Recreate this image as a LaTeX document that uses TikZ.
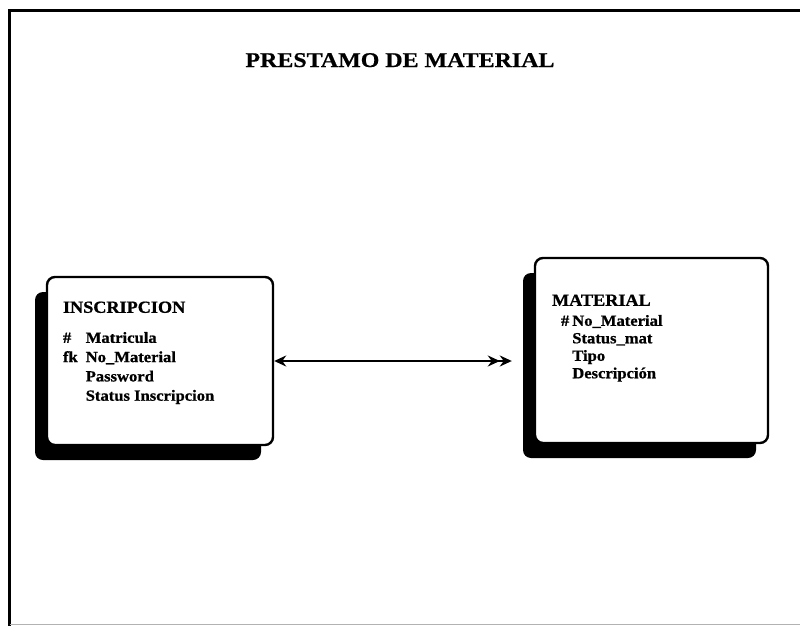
\documentclass[tikz,border=0pt]{standalone}
\usepackage{fontspec}
\setmainfont{Liberation Serif}
\newfontfamily\widefont{Liberation Serif}[FakeStretch=1.14, FakeBold=0.6]
\newfontfamily\boxfont{Liberation Serif}[FakeStretch=1.07, FakeBold=0.8]
\usetikzlibrary{positioning, arrows.meta, calc, shadows}
\tikzset{
  entity/.style={draw, fill=white, rounded corners=8pt, line width=2.4pt,
    drop shadow={shadow xshift=-12pt, shadow yshift=-15pt, fill=black, opacity=1}},
  ehead/.style={font=\boxfont\fontsize{17}{20}\selectfont\bfseries, inner sep=0pt, anchor=base west},
  fields/.style={font=\boxfont\fontsize{15.5}{#1}\selectfont\bfseries, inner sep=0pt, anchor=base west},
  fields/.default=19.3,
  frame/.style={line width=3pt},
  link/.style={{Stealth[length=12pt,width=11pt]}-{Stealth[length=12pt,width=11pt]Stealth[length=12pt,width=11pt]}, line width=2.3pt},
}
\begin{document}
\begin{tikzpicture}[x=1pt, y=-1pt]
\useasboundingbox (0,0) rectangle (800,626);
% page frame
\draw[frame] (8,11) -- (800,11);
\draw[frame] (9.5,11) -- (9.5,626);
\draw[gray!60, line width=1pt] (9.5,624.5) -- (800,624.5);
\node[font=\widefont\fontsize{21}{24}\selectfont\bfseries, anchor=base] (title) at (400,67) {PRESTAMO DE MATERIAL};
% entities
\node[entity, minimum width=226pt, minimum height=168pt] (insc) at (160,361) {};
\node[entity, minimum width=233pt, minimum height=185pt] (mat) at (651.5,350.5) {};
\node[ehead] (inscH) at ([xshift=17pt,yshift=-37pt]insc.north west) {INSCRIPCION};
\node[fields] (inscF) at ([yshift=-30pt]inscH.base west)
  {\begin{tabular}[t]{@{}l@{\hspace{8pt}}l@{}}\# & Matricula\\ fk & No\_Material\\ & Password\\ & Status Inscripcion\end{tabular}};
\node[ehead] (matH) at ([xshift=18pt,yshift=-49pt]mat.north west) {MATERIAL};
\node[fields=17.5] (matF) at ([xshift=9pt,yshift=-20pt]matH.base west)
  {\begin{tabular}[t]{@{}l@{\hspace{3pt}}l@{}}\# & No\_Material\\ & Status\_mat\\ & Tipo\\ & Descripción\end{tabular}};
% relation
\coordinate (matin) at ([xshift=-22pt]mat.west);
\draw[link] (insc.east) -- (insc.east -| matin);
\end{tikzpicture}
\end{document}
